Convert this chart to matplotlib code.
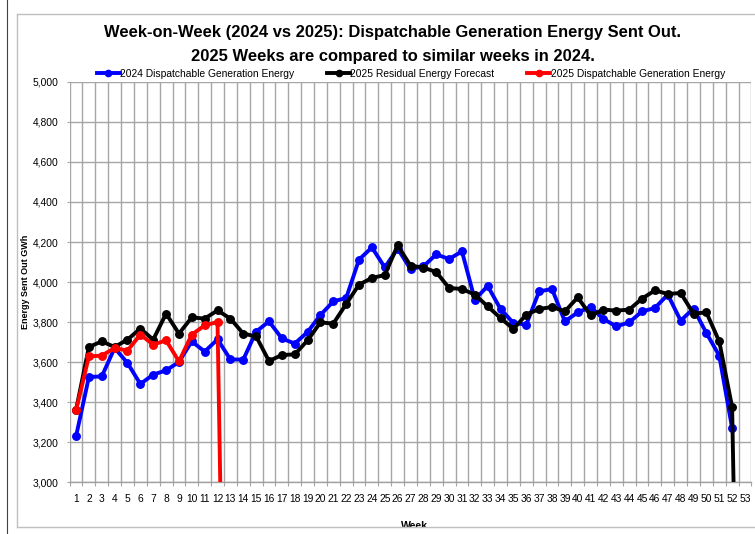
import numpy as np
import matplotlib
matplotlib.use("Agg")
import matplotlib.pyplot as plt
from matplotlib import font_manager
from matplotlib.lines import Line2D
from matplotlib.patches import Rectangle
from matplotlib.ticker import FuncFormatter, MultipleLocator, FixedLocator

nan = np.nan

weeks = list(range(1, 54))

dispatch_2024 = [3228, 3525, 3528, 3670, 3595, 3490, 3537, 3558, 3600, 3703,
                 3652, 3713, 3613, 3612, 3752, 3803, 3718, 3692, 3750, 3835,
                 3903, 3920, 4112, 4173, 4073, 4167, 4065, 4078, 4138, 4115,
                 4153, 3912, 3980, 3865, 3795, 3787, 3953, 3965, 3803, 3848,
                 3875, 3815, 3778, 3798, 3853, 3870, 3937, 3807, 3867, 3745,
                 3632, 3270, nan]

residual_2025 = [3360, 3675, 3703, 3675, 3712, 3767, 3712, 3842, 3742, 3823,
                 3817, 3858, 3817, 3742, 3728, 3605, 3635, 3638, 3708, 3798,
                 3792, 3890, 3987, 4020, 4035, 4183, 4082, 4072, 4050, 3970,
                 3965, 3937, 3878, 3820, 3765, 3837, 3865, 3875, 3853, 3923,
                 3833, 3862, 3857, 3862, 3917, 3958, 3940, 3945, 3842, 3848,
                 3703, 3375, 0]

dispatch_2025 = [3358, 3628, 3632, 3670, 3657, 3737, 3687, 3708, 3603, 3737,
                 3783, 3800, 0] + [nan] * 40

series_names = ["2024 Dispatchable Generation Energy",
                "2025 Residual Energy Forecast",
                "2025 Dispatchable Generation Energy"]
series_colors = ["#0000FF", "#000000", "#FF0000"]

title_lines = ["Week-on-Week (2024 vs 2025): Dispatchable Generation Energy Sent Out.",
               "2025 Weeks are compared to similar weeks in 2024."]

plt.rcParams['font.family'] = ['Liberation Sans', 'DejaVu Sans']

def has_font(name):
    try:
        font_manager.findfont(font_manager.FontProperties(family=name), fallback_to_default=False)
        return True
    except Exception:
        return False

W, H = 755, 534
fig = plt.figure(figsize=(W / 100, H / 100), dpi=100)

def fx(px):
    return px / W

def fy(py):
    return 1 - py / H

left, right, top, bottom = 69.6, 751.4, 82, 482
ax = fig.add_axes([fx(left), fy(bottom), fx(right - left), (bottom - top) / H])

grid_c = "#a6a6a6"
x = np.array(weeks)
for vals, c, z in zip([dispatch_2024, residual_2025, dispatch_2025], series_colors, [3, 4, 5]):
    ax.plot(x, vals, color=c, lw=2.8, marker='o', ms=5.4, zorder=z, solid_joinstyle='round')

ax.set_xlim(0.5, 53.5)
ax.set_ylim(3000, 5000)
ax.yaxis.set_major_locator(MultipleLocator(200))
ax.yaxis.set_major_formatter(FuncFormatter(lambda v, p: f"{int(v):,}"))
ax.xaxis.set_major_locator(FixedLocator(weeks))
ax.set_xticklabels([str(w) for w in weeks])
ax.xaxis.set_minor_locator(FixedLocator(np.arange(0.5, 54, 1.0)))

ax.grid(True, axis='y', which='major', color=grid_c, lw=1.0, zorder=0)
ax.grid(True, axis='x', which='minor', color=grid_c, lw=1.0, zorder=0)
ax.set_axisbelow(True)
for s in ['top', 'right', 'left']:
    ax.spines[s].set_visible(False)
ax.spines['bottom'].set_color("#a0a0a0")
ax.spines['bottom'].set_linewidth(1.0)

ax.tick_params(axis='x', which='major', length=0, pad=9.0, labelsize=7.4, colors='#000000')
ax.tick_params(axis='x', which='minor', length=3, width=0.8, color=grid_c)
ax.tick_params(axis='y', which='major', length=2.5, width=0.8, color=grid_c, pad=5.5, labelsize=7.4, labelcolor='#000000')

# Title
if has_font('Liberation Sans Narrow'):
    tfam, tsize = ['Liberation Sans Narrow', 'Liberation Sans'], 12.5 * 1.133
else:
    tfam, tsize = ['Liberation Sans', 'DejaVu Sans'], 10.5 * 1.133
fig.text(fx(393), fy(33), title_lines[0], ha='center', va='center', fontsize=tsize,
         fontweight='bold', family=tfam)
fig.text(fx(393), fy(56), title_lines[1], ha='center', va='center', fontsize=tsize,
         fontweight='bold', family=tfam)

# Legend
handles = [Line2D([], [], color=c, lw=2.8, marker='o', ms=4.5) for c in series_colors]
fig.legend(handles, series_names, loc='center', bbox_to_anchor=(fx(411), fy(74)), ncol=3,
           frameon=False, fontsize=7.4, handlelength=2.2, handletextpad=0.05,
           columnspacing=3.2, borderpad=0, borderaxespad=0)

# Axis labels
fig.text(fx(26), fy(282), "Energy Sent Out GWh", rotation=90, ha='center', va='center',
         fontsize=6.5, fontweight='bold')
fig.text(fx(414), fy(521), "Week", ha='center', va='top', fontsize=7.6, fontweight='bold')

# Clip below chart area border and draw frame
fig.patches.append(Rectangle((0, 0), 1, fy(527), transform=fig.transFigure,
                             facecolor='white', edgecolor='none', zorder=10))
border_c = "#bfbfbf"
fig.lines.append(Line2D([fx(16.5), fx(16.5)], [fy(527), fy(14)], transform=fig.transFigure,
                        color=border_c, lw=1.0, zorder=11))
fig.lines.append(Line2D([fx(16.5), 1], [fy(14), fy(14)], transform=fig.transFigure,
                        color=border_c, lw=1.0, zorder=11))
fig.lines.append(Line2D([fx(16.5), 1], [fy(527), fy(527)], transform=fig.transFigure,
                        color=border_c, lw=1.0, zorder=11))
fig.lines.append(Line2D([fx(6.5), fx(6.5)], [0, 1], transform=fig.transFigure,
                        color="#404040", lw=0.8, zorder=11))

fig.savefig("out.png", dpi=100)
